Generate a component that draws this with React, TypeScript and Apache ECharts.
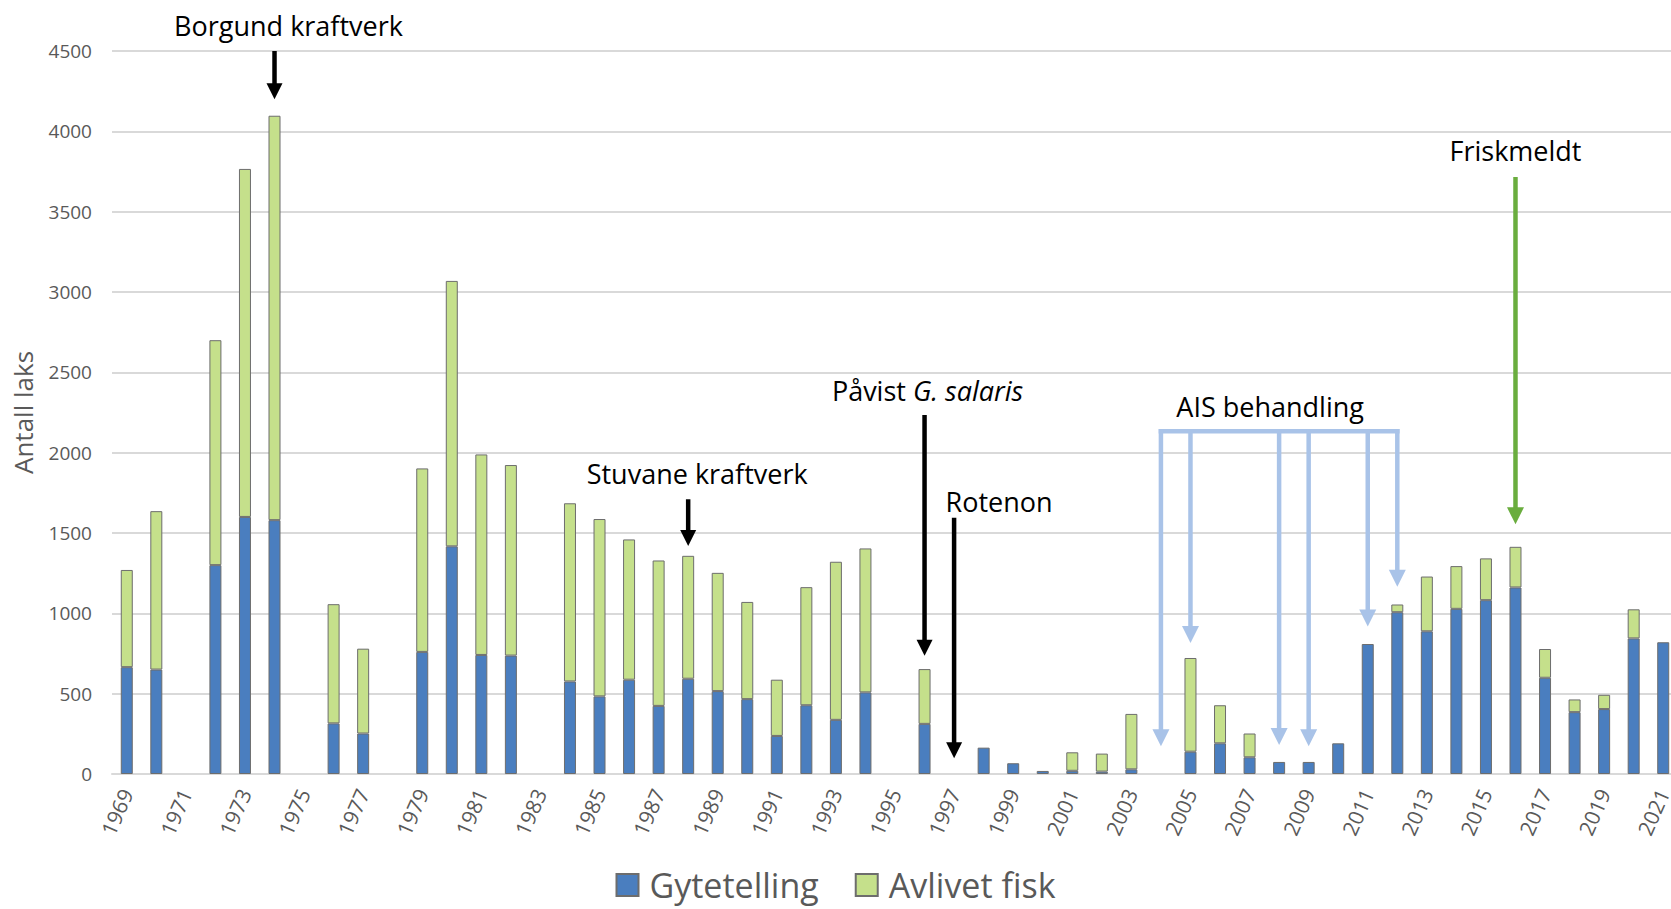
import React, { useEffect, useRef } from "react";
import * as echarts from "echarts";

const years = [
  "1969", "1970", "1971", "1972", "1973", "1974", "1975", "1976", "1977", "1978",
  "1979", "1980", "1981", "1982", "1983", "1984", "1985", "1986", "1987", "1988",
  "1989", "1990", "1991", "1992", "1993", "1994", "1995", "1996", "1997", "1998",
  "1999", "2000", "2001", "2002", "2003", "2004", "2005", "2006", "2007", "2008",
  "2009", "2010", "2011", "2012", "2013", "2014", "2015", "2016", "2017", "2018",
  "2019", "2020", "2021",
];

const gytetelling: (number | null)[] = [
  665, 650, null, 1300, 1600, 1580, null, 315, 252, null,
  760, 1417, 741, 737, null, 576, 483, 587, 424, 593,
  516, 466, 237, 428, 337, 508, null, 312, null, 164,
  67, 19, 20, 15, 29, null, 139, 191, 104, 75,
  75, 191, 809, 1007, 888, 1028, 1082, 1161, 599, 385,
  404, 844, 820,
];

const avlivetFisk: (number | null)[] = [
  605, 986, null, 1400, 2166, 2517, null, 742, 528, null,
  1142, 1652, 1248, 1186, null, 1109, 1104, 873, 905, 765,
  736, 605, 350, 735, 984, 896, null, 341, null, null,
  null, null, 115, 112, 345, null, 583, 237, 148, null,
  null, null, null, 48, 341, 266, 260, 253, 179, 79,
  89, 181, null,
];

const yMin = 0;
const yMax = 4500;
const yInterval = 500;

// Annotation arrows (year, from value, to value)
const blackArrows = [
  { year: "1974", from: 4500, to: 4200 },
  { year: "1988", from: 1710, to: 1419 },
  { year: "1996", from: 2234, to: 736 },
  { year: "1997", from: 1595, to: 98 },
];
const aisLevel = 2133;
const aisArrows = [
  { year: "2004", to: 172 },
  { year: "2005", to: 815 },
  { year: "2008", to: 180 },
  { year: "2009", to: 172 },
  { year: "2011", to: 918 },
  { year: "2012", to: 1165 },
];
const greenArrow = { year: "2016", from: 3716, to: 1554 };

const annotationTexts = [
  { text: "Borgund kraftverk", year: "1974", dx: 14, value: 4659 },
  { text: "Stuvane kraftverk", year: "1988", dx: 9, value: 1870 },
  { text: "Rotenon", year: "1997", dx: 45, value: 1699 },
  { text: "AIS behandling", year: "2008", dx: -9, value: 2290 },
  { text: "Friskmeldt", year: "2016", dx: 0, value: 3878 },
];
const pavistText = { year: "1996", dx: 3, value: 2390 };

const FONT = "'Open Sans', 'Noto Sans', sans-serif";
const BLUE = "#4a7ebf";
const GREEN = "#c5e08b";
const ARROW_BLUE = "#a9c3e8";
const ARROW_GREEN = "#6aad3e";

export default function App() {
  const ref = useRef<HTMLDivElement>(null);

  useEffect(() => {
    document.body.style.margin = "0";
    const chart = echarts.init(ref.current!, null, { renderer: "svg" });
    const barStyle = (color: string) => ({
      color,
      borderColor: "#6d6d6d",
      borderWidth: 1,
    });
    chart.setOption({
      animation: false,
      backgroundColor: "#ffffff",
      textStyle: { fontFamily: FONT },
      grid: {
        left: 112,
        right: -7,
        top: 51,
        bottom: 135,
        containLabel: false,
        outerBoundsMode: "none",
      },
      legend: {
        top: 863,
        left: "center",
        itemWidth: 22,
        itemHeight: 22,
        itemGap: 36,
        icon: "rect",
        textStyle: { fontSize: 34, color: "#595959", fontFamily: FONT, padding: [0, 0, 0, 6] },
        data: ["Gytetelling", "Avlivet fisk"],
      },
      xAxis: {
        type: "category",
        data: years,
        axisLine: { lineStyle: { color: "#d9d9d9", width: 2 } },
        axisTick: { show: false },
        axisLabel: {
          interval: 1,
          rotate: 66,
          margin: 16,
          fontSize: 21,
          color: "#595959",
          fontFamily: FONT,
        },
      },
      yAxis: {
        type: "value",
        min: yMin,
        max: yMax,
        interval: yInterval,
        name: "Antall laks",
        nameLocation: "middle",
        nameRotate: 90,
        nameGap: 76,
        nameTextStyle: { fontSize: 26, color: "#595959", fontFamily: FONT },
        axisLine: { show: false },
        axisTick: { show: false },
        axisLabel: {
          margin: 20,
          fontSize: 19,
          color: "#595959",
          fontFamily: FONT,
          formatter: (v: number) => String(v),
        },
        splitLine: { lineStyle: { color: "#d9d9d9", width: 2 } },
      },
      series: [
        {
          name: "Gytetelling",
          type: "bar",
          stack: "total",
          barWidth: 12,
          data: gytetelling,
          itemStyle: barStyle(BLUE),
        },
        {
          name: "Avlivet fisk",
          type: "bar",
          stack: "total",
          barWidth: 12,
          data: avlivetFisk,
          itemStyle: barStyle(GREEN),
        },
      ],
    });

    const gx = (y: string) => chart.convertToPixel({ xAxisIndex: 0 }, y) as number;
    const gy = (v: number) => chart.convertToPixel({ yAxisIndex: 0 }, v) as number;

    const elements: any[] = [];
    const arrow = (
      x: number,
      y1: number,
      y2: number,
      color: string,
      lw: number,
      headW: number,
      headH: number
    ) => {
      elements.push({
        type: "line",
        z: 100,
        shape: { x1: x, y1, x2: x, y2: y2 - headH + 1 },
        style: { stroke: color, lineWidth: lw },
      });
      elements.push({
        type: "polygon",
        z: 100,
        shape: {
          points: [
            [x - headW / 2, y2 - headH],
            [x + headW / 2, y2 - headH],
            [x, y2],
          ],
        },
        style: { fill: color },
      });
    };

    blackArrows.forEach((a) => arrow(gx(a.year), gy(a.from), gy(a.to), "#000000", 4.5, 16, 16));

    const aisY = gy(aisLevel);
    const xs = aisArrows.map((a) => gx(a.year));
    elements.push({
      type: "line",
      z: 100,
      shape: { x1: Math.min(...xs) - 2.25, y1: aisY, x2: Math.max(...xs) + 2.25, y2: aisY },
      style: { stroke: ARROW_BLUE, lineWidth: 4.5 },
    });
    aisArrows.forEach((a) => arrow(gx(a.year), aisY - 2.25, gy(a.to), ARROW_BLUE, 4.5, 17, 17));

    arrow(gx(greenArrow.year), gy(greenArrow.from), gy(greenArrow.to), ARROW_GREEN, 4.5, 17, 17);

    annotationTexts.forEach((t) => {
      elements.push({
        type: "text",
        z: 100,
        x: gx(t.year) + t.dx,
        y: gy(t.value),
        style: {
          text: t.text,
          fontSize: 27,
          fontFamily: FONT,
          fill: "#000000",
          align: "center",
          verticalAlign: "middle",
        },
      });
    });
    elements.push({
      type: "text",
      z: 100,
      x: gx(pavistText.year) + pavistText.dx,
      y: gy(pavistText.value),
      style: {
        text: "{a|Påvist }{b|G. salaris}",
        align: "center",
        verticalAlign: "middle",
        rich: {
          a: { fontSize: 27, fontFamily: FONT, fill: "#000000" },
          b: { fontSize: 27, fontFamily: FONT, fontStyle: "italic", fill: "#000000" },
        },
      },
    });

    chart.setOption({ graphic: elements });

    return () => chart.dispose();
  }, []);

  return <div ref={ref} style={{ width: 1671, height: 909 }} />;
}
